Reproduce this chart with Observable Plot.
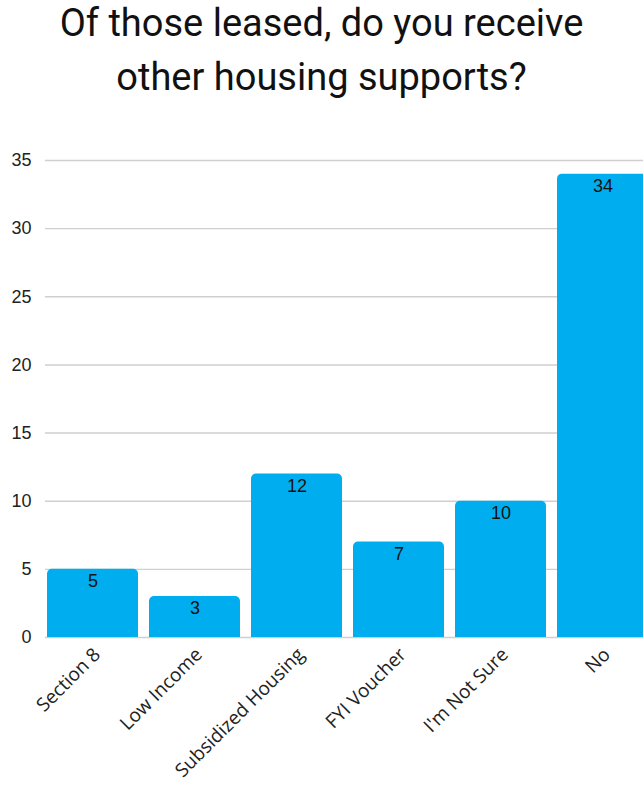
<!DOCTYPE html>
<html><head><meta charset="utf-8">
<script src="https://cdn.jsdelivr.net/npm/d3@7"></script>
<script src="https://cdn.jsdelivr.net/npm/@observablehq/plot@0.6"></script>
<style>
html,body{margin:0;padding:0;background:#fff;overflow:hidden;width:643px;height:785px}
#title{font-family:Roboto,sans-serif;font-size:38px;text-align:center;line-height:54px;height:124px;color:#111;margin-top:-4px;box-sizing:border-box}
#chart{height:665px;overflow:hidden}
</style></head><body>
<div id="title">Of those leased, do you receive<br>other housing supports?</div>
<div id="chart"></div>
<script>
const categories = ["Section 8", "Low Income", "Subsidized Housing", "FYI Voucher", "I'm Not Sure", "No"];
const counts = [5, 3, 12, 7, 10, 34];
const yTicks = [0, 5, 10, 15, 20, 25, 30, 35];
const data = categories.map((c, i) => ({category: c, count: counts[i]}));

const plot = Plot.plot({
  width: 643, height: 665,
  marginTop: 40, marginLeft: 45, marginRight: 0, marginBottom: 148,
  style: {fontFamily: "Liberation Sans, sans-serif", fontSize: "18px", color: "#222", background: "#fff"},
  x: {domain: categories, range: [46, 648], paddingInner: 0.11, paddingOuter: 0, label: null},
  y: {domain: [0, 35], label: null},
  marks: [
    Plot.gridY(yTicks, {stroke: "#cfcfcf", strokeOpacity: 1, strokeWidth: 1.4}),
    Plot.barY(data, {x: "category", y: "count", fill: "#00AEEF", rx: 5, insetBottom: -8, clip: true}),
    Plot.text(data, {x: "category", y: "count", text: d => String(d.count), dy: 12, fontSize: 18, fill: "#111"}),
    Plot.axisY(yTicks, {tickSize: 0, tickPadding: 14, fontSize: 18, label: null}),
    Plot.axisX({tickSize: 0, tickRotate: -45, tickPadding: 14, dx: 4, fontSize: 19, fontFamily: "Open Sans, sans-serif", label: null})
  ]
});
document.getElementById("chart").appendChild(plot);
</script>
</body></html>
